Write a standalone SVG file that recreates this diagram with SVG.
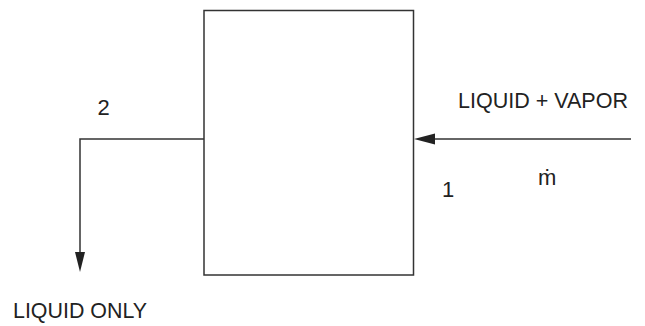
<svg xmlns="http://www.w3.org/2000/svg" width="645" height="326" viewBox="0 0 645 326">
<style>
.ln{fill:none;stroke:#333;stroke-width:1.5}
.ah{fill:#222;stroke:none}
.t{fill:#222}
</style>
<rect width="645" height="326" fill="#fff"/>
<g id="separator">
<rect class="ln" x="204" y="10.5" width="209.5" height="264.5"/>
</g>
<g id="connectors">
<polyline class="ln" points="204,139 80,139 80,254"/>
<polygon class="ah" points="75,252 85,252 80,272"/>
<line class="ln" x1="631" y1="139" x2="432" y2="139"/>
<polygon class="ah" points="414,139 435,133.5 435,144.5"/>
</g>
<g id="labels" font-family="'Liberation Sans', Arial, sans-serif" font-size="22">
<text class="t" x="97.5" y="115">2</text>
<text class="t" x="442" y="197">1</text>
<text class="t" x="458" y="108" textLength="170" lengthAdjust="spacingAndGlyphs">LIQUID + VAPOR</text>
<text class="t" x="538" y="185">ṁ</text>
<text class="t" x="13" y="318" textLength="134" lengthAdjust="spacingAndGlyphs">LIQUID ONLY</text>
</g>
</svg>
